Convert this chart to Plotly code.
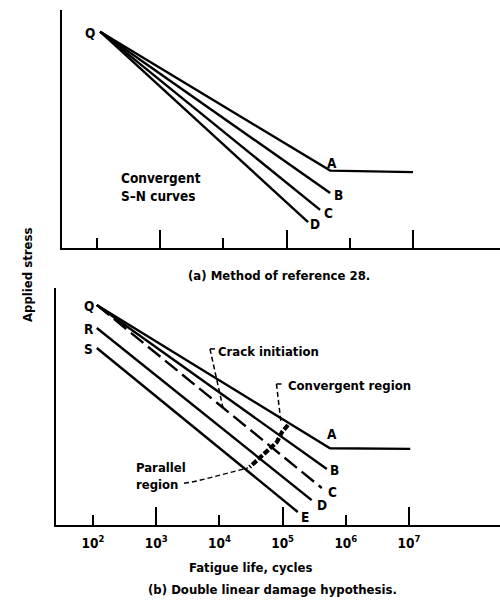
import plotly.graph_objects as go

# ---------------- data: life as log10(cycles), stress in relative units ----------------
# (a) Method of reference 28 - convergent S-N curves from common point Q
a_names = ["A", "B", "C", "D"]
a_q_life, a_q_stress = 2.05, 90.9
a_knee_life, a_knee_stress = 5.69, 32.5          # curve A bends to endurance limit
a_limit_life, a_limit_stress = 7.0, 31.9
a_end_life = [5.69, 5.69, 5.53, 5.34]            # end points of A..D
a_end_stress = [32.5, 23.1, 16.0, 10.9]

# (b) Double linear damage hypothesis
b_start_names = ["Q", "R", "S"]
b_start_life = [2.06, 2.06, 2.06]
b_start_stress = [92.8, 83.1, 74.7]
b_names = ["A", "B", "C", "D", "E"]
b_start_of = ["Q", "Q", "Q", "R", "S"]
b_end_life = [5.75, 5.70, 5.62, 5.46, 5.24]
b_end_stress = [32.4, 23.6, 15.6, 10.5, 5.5]
b_limit_life, b_limit_stress = 7.02, 32.1
# boundary between convergent and parallel regions
b_bound_life = [5.085, 4.99, 4.91, 4.77, 4.66, 4.48]
b_bound_stress = [42.2, 39.2, 35.0, 31.6, 28.7, 24.5]
# leader lines for the callouts
crack_leader_life = [3.851, 4.057]
crack_leader_stress = [74.3, 49.4]
conv_leader_life = [4.903, 4.975]
conv_leader_stress = [59.5, 43.2]
par_leader_life = [3.44, 3.566, 3.772, 4.009, 4.247, 4.453]
par_leader_stress = [17.6, 18.1, 19.4, 21.1, 22.8, 24.1]

decades = [2, 3, 4, 5, 6, 7]

W, H = 500, 611
FONT = "DejaVu Sans Condensed, Liberation Sans Narrow, Arial Narrow, sans-serif"
LW = 2.4


def px(x):
    return x / W


def py(y):
    return 1 - y / H


def cyc(e):
    return [10 ** v for v in e] if isinstance(e, list) else 10 ** e


def tfont(size):
    return dict(family=FONT, size=size, color="black", weight="bold")


fig = go.Figure()
line = dict(color="black", width=LW)

# ---- panel (a)
fig.add_trace(go.Scatter(x=cyc([a_q_life, a_knee_life, a_limit_life]),
                         y=[a_q_stress, a_knee_stress, a_limit_stress],
                         mode="lines", line=line, xaxis="x", yaxis="y", hoverinfo="skip"))
for life, stress in zip(a_end_life[1:], a_end_stress[1:]):
    fig.add_trace(go.Scatter(x=cyc([a_q_life, life]), y=[a_q_stress, stress],
                             mode="lines", line=line, xaxis="x", yaxis="y", hoverinfo="skip"))

# ---- panel (b)
starts = dict(zip(b_start_names, zip(b_start_life, b_start_stress)))
for name, s, life, stress in zip(b_names, b_start_of, b_end_life, b_end_stress):
    x0, y0 = starts[s]
    xs, ys = [x0, life], [y0, stress]
    if name == "A":
        xs.append(b_limit_life)
        ys.append(b_limit_stress)
    dash = "16px,6px" if name == "C" else "solid"
    fig.add_trace(go.Scatter(x=cyc(xs), y=ys, mode="lines",
                             line=dict(color="black", width=LW, dash=dash),
                             xaxis="x2", yaxis="y2", hoverinfo="skip"))

fig.add_trace(go.Scatter(x=cyc(b_bound_life), y=b_bound_stress, mode="lines",
                         line=dict(color="black", width=4.2, dash="6px,2px"),
                         xaxis="x2", yaxis="y2", hoverinfo="skip"))
for lx, ly in [(crack_leader_life, crack_leader_stress),
               (conv_leader_life, conv_leader_stress),
               (par_leader_life, par_leader_stress)]:
    fig.add_trace(go.Scatter(x=cyc(lx), y=ly, mode="lines",
                             line=dict(color="black", width=1.5, dash="5px,3px"),
                             xaxis="x2", yaxis="y2", hoverinfo="skip"))
# short bracket ticks on the callouts
for lx, ly in [(crack_leader_life, crack_leader_stress),
               (conv_leader_life, conv_leader_stress)]:
    fig.add_trace(go.Scatter(x=cyc([lx[0], lx[0] + 0.08]), y=[ly[0], ly[0]], mode="lines",
                             line=dict(color="black", width=1.5),
                             xaxis="x2", yaxis="y2", hoverinfo="skip"))

# ---- letter labels
ann = []


def label(text, x, y, xs, ys, xr, yr, size=13.5):
    ann.append(dict(text=text, x=x, y=y, xref=xr, yref=yr, xshift=xs, yshift=ys,
                    showarrow=False, xanchor="center", yanchor="middle",
                    font=tfont(size)))


label("Q", a_q_life, a_q_stress, -10, -1, "x", "y")
a_shift = [(2, 8), (8, -2), (8, -3), (7, -2)]
for n, l, s, (dx, dy) in zip(a_names, a_end_life, a_end_stress, a_shift):
    label(n, l, s, dx, dy, "x", "y")

for n, l, s in zip(b_start_names, b_start_life, b_start_stress):
    label(n, l, s, -8, -1, "x2", "y2")
b_shift = [(2, 14), (8, -1), (11, -4), (10, -5), (7, -5)]
for n, l, s, (dx, dy) in zip(b_names, b_end_life, b_end_stress, b_shift):
    label(n, l, s, dx, dy, "x2", "y2")


def text(t, x, y, size=13, xa="left", align="left"):
    ann.append(dict(text=t, x=px(x), y=py(y), xref="paper", yref="paper",
                    showarrow=False, xanchor=xa, yanchor="middle", align=align,
                    font=tfont(size)))


text("Convergent<br>S–N curves", 119, 187, 13.5)
text("(a) Method of reference 28.", 279, 275, 13, "center")
text("Crack initiation", 216, 351)
text("Convergent region", 286, 385)
text("Parallel<br>region", 134, 476)
text("Fatigue life, cycles", 250, 567, 13, "center")
text("(b) Double linear damage hypothesis.", 272, 589, 13, "center")
ann.append(dict(text="Applied stress", x=px(27), y=py(275), xref="paper", yref="paper",
                showarrow=False, textangle=-90, xanchor="center", yanchor="middle",
                font=tfont(13)))

tick_long = [10 ** d for d in decades if d % 2 == 1]
tick_short = [10 ** d for d in decades if d % 2 == 0]


def xaxis(domain, rng, anchor):
    return dict(type="log", domain=domain, range=rng, anchor=anchor,
                showline=True, linecolor="black", linewidth=2,
                showgrid=False, zeroline=False,
                ticks="inside", tickmode="array", tickvals=tick_long, ticklen=18,
                tickwidth=2, tickcolor="black", showticklabels=False,
                minor=dict(tickmode="array", tickvals=tick_short, ticks="inside",
                           ticklen=10, tickwidth=2, tickcolor="black", showgrid=False))


def yaxis(domain, anchor):
    return dict(domain=domain, range=[0, 100], anchor=anchor, showline=True,
                linecolor="black", linewidth=2, showgrid=False, zeroline=False,
                ticks="", showticklabels=False)


fig.update_layout(
    width=W, height=H, margin=dict(l=0, r=0, t=0, b=0),
    paper_bgcolor="white", plot_bgcolor="white", showlegend=False,
    xaxis=xaxis([px(62), 1.0], [1.446, 8.377], "y"),
    yaxis=yaxis([py(248), py(10)], "x"),
    xaxis2=xaxis([px(56), 1.0], [1.4146, 8.44], "y2"),
    yaxis2=yaxis([py(525), py(288)], "x2"),
    xaxis3=dict(type="log", overlaying="x2", range=[1.4146, 8.44], anchor="y2",
                side="bottom", showline=False, showgrid=False, zeroline=False,
                ticks="", tickmode="array", tickvals=[10 ** d for d in decades],
                ticktext=[f"10<sup>{d}</sup>" for d in decades],
                ticklabelstandoff=8,
                tickfont=tfont(13.5)),
    annotations=ann,
)
# anchor trace for the label axis
fig.add_trace(go.Scatter(x=[10 ** decades[0]], y=[None], xaxis="x3", yaxis="y2",
                         mode="markers", hoverinfo="skip", showlegend=False))

fig.write_html("out.html")
